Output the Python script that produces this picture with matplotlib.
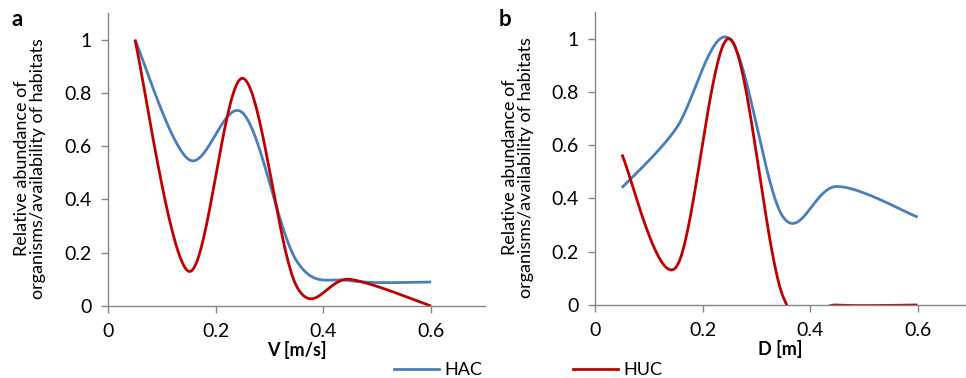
import numpy as np
import matplotlib
matplotlib.use("Agg")
import matplotlib.pyplot as plt
from matplotlib.lines import Line2D

plt.rcParams["font.family"] = ["Lato", "DejaVu Sans"]

# data (x positions of the class centres)
v_x = [0.05, 0.15, 0.25, 0.35, 0.45, 0.6]
v_hac = [1.0, 0.55, 0.725, 0.17, 0.095, 0.09]
v_huc = [1.0, 0.13, 0.855, 0.075, 0.10, 0.0]

d_x = [0.05, 0.15, 0.25, 0.35, 0.45, 0.6]
d_hac = [0.44, 0.66, 1.0, 0.33, 0.445, 0.33]
d_huc = [0.565, 0.14, 1.0, 0.03, 0.0, 0.0]

ylabel = "Relative abundance of\norganisms/availability of habitats"
BLUE = "#4A7EBB"
RED = "#C00000"
GRAY = "#868686"
FS = 13


def excel_smooth(x, y, n=40):
    # Excel style smoothed line: cubic bezier, control points from neighbours / 6
    p = np.column_stack([x, y]).astype(float)
    pts = []
    for i in range(len(p) - 1):
        p0 = p[i - 1] if i > 0 else p[i]
        p1 = p[i]
        p2 = p[i + 1]
        p3 = p[i + 2] if i + 2 < len(p) else p[i + 1]
        c1 = p1 + (p2 - p0) / 6
        c2 = p2 - (p3 - p1) / 6
        t = np.linspace(0, 1, n)[:, None]
        seg = ((1 - t) ** 3) * p1 + 3 * ((1 - t) ** 2) * t * c1 + 3 * (1 - t) * t ** 2 * c2 + t ** 3 * p2
        pts.append(seg if i == 0 else seg[1:])
    pts = np.vstack(pts)
    return pts[:, 0], pts[:, 1]


fig = plt.figure(figsize=(9.66, 3.78), dpi=100)
ax1 = fig.add_axes([108 / 966, 1 - 306 / 378, (485 - 108) / 966, (306 - 13) / 378])
ax2 = fig.add_axes([595 / 966, 1 - 305 / 378, (966 - 595) / 966, (305 - 12) / 378])


def style(ax, xlim, xlabel):
    ax.set_xlim(*xlim)
    ax.set_ylim(0, 1.1)
    ax.set_xticks([0, 0.2, 0.4, 0.6])
    ax.set_xticklabels(["0", "0.2", "0.4", "0.6"])
    ax.set_yticks([0, 0.2, 0.4, 0.6, 0.8, 1.0])
    ax.set_yticklabels(["0", "0.2", "0.4", "0.6", "0.8", "1"])
    for s in ["top", "right"]:
        ax.spines[s].set_visible(False)
    for s in ["left", "bottom"]:
        ax.spines[s].set_color(GRAY)
        ax.spines[s].set_linewidth(1.0)
    ax.tick_params(axis="both", direction="out", color=GRAY, length=5, width=1.0,
                   labelsize=14, pad=7)
    ax.set_xlabel(xlabel, fontsize=FS, fontweight="bold", labelpad=1)
    ax.set_ylabel(ylabel, fontsize=FS, labelpad=8, linespacing=1.0)
    ax.yaxis.set_label_coords(-0.165, 0.47)


for ax, x, hac, huc, xl, xlab in [
    (ax1, v_x, v_hac, v_huc, (0, 0.7), "V [m/s]"),
    (ax2, d_x, d_hac, d_huc, (0, 0.69), "D [m]"),
]:
    sx, sy = excel_smooth(x, hac)
    ax.plot(sx, sy, color=BLUE, lw=2.0, solid_capstyle="butt", clip_on=True)
    sx, sy = excel_smooth(x, huc)
    ax.plot(sx, sy, color=RED, lw=2.0, solid_capstyle="butt", clip_on=True)
    style(ax, xl, xlab)

fig.text(12 / 966, 1 - 20 / 378, "a", fontsize=16, fontweight="bold", va="center")
fig.text(499 / 966, 1 - 20 / 378, "b", fontsize=16, fontweight="bold", va="center")

handles = [Line2D([], [], color=BLUE, lw=2.0), Line2D([], [], color=RED, lw=2.0)]
fig.legend(handles, ["HAC", "HUC"], loc="center", bbox_to_anchor=(528 / 966, 1 - 370 / 378),
           ncol=2, frameon=False, fontsize=FS, handlelength=2.5, handletextpad=0.3,
           columnspacing=5.0)

fig.savefig("out.png", dpi=100)
